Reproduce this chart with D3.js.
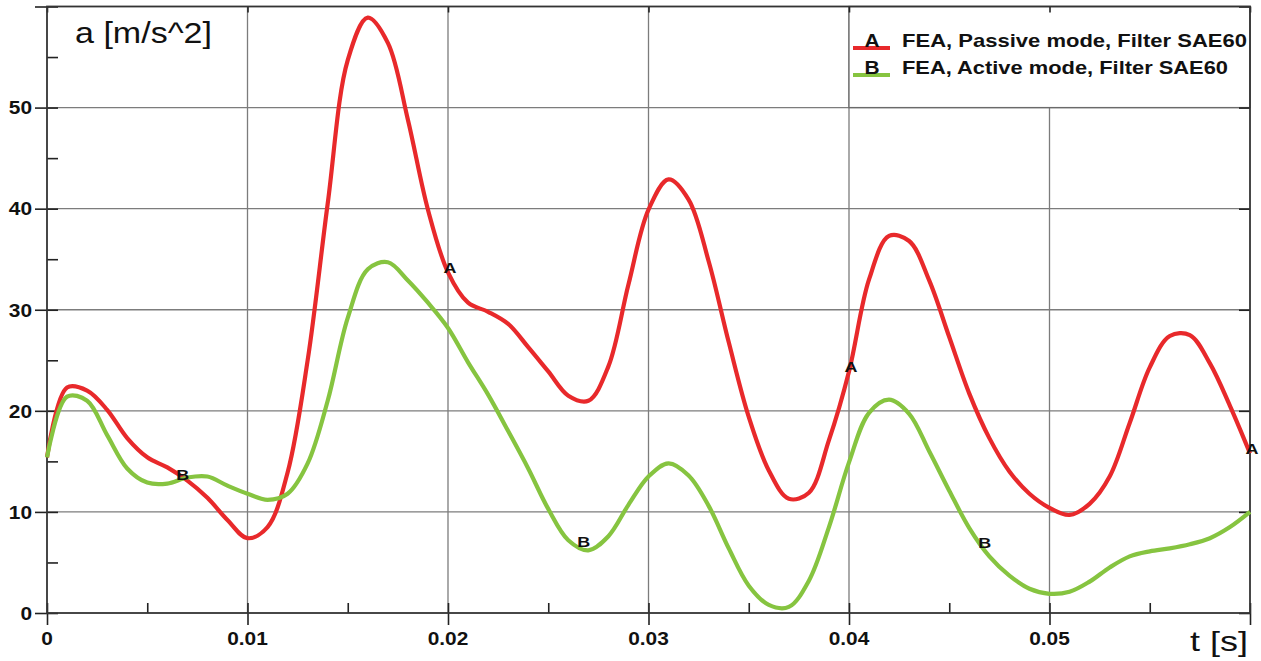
<!DOCTYPE html>
<html>
<head>
<meta charset="utf-8">
<script src="https://cdnjs.cloudflare.com/ajax/libs/d3/7.8.5/d3.min.js"></script>
<style>
  body { margin: 0; background: #fff; }
  svg { display: block; font-family: 'Liberation Sans', Arial, sans-serif; }
</style>
</head>
<body>
<script>

// Data (time in ms, acceleration in m/s^2)
var timeMs = [0,1,2,3,4,5,6,7,8,9,10,11,12,13,14,15,16,17,18,19,20,21,22,23,24,25,26,27,28,29,30,
  31,32,33,34,35,36,37,38,39,40,41,42,43,44,45,46,47,48,49,50,51,52,53,54,55,56,57,58,59,60];

var passive = [15.4,22.3,22.0,20.1,17.3,15.4,14.4,13.1,11.4,9.2,7.4,8.5,13.9,25.0,40.5,54.7,58.9,56.4,48.8,39.9,
  33.7,30.7,29.8,28.6,26.3,23.9,21.5,21.0,24.4,32.5,39.9,42.9,40.9,34.8,26.8,19.4,14.1,11.3,11.9,17.1,
  23.9,33.0,37.3,36.8,32.9,27.3,21.7,17.3,14.0,11.8,10.4,9.7,10.8,13.5,18.8,24.3,27.4,27.5,24.7,20.5,15.8];

var active = [15.4,21.4,21.0,17.6,14.3,12.9,12.8,13.4,13.5,12.6,11.8,11.2,11.8,14.8,21.0,29.2,34.0,34.7,32.9,30.7,
  28.2,24.8,21.6,18.0,14.3,10.3,7.2,6.2,7.6,10.7,13.5,14.8,13.6,10.6,6.4,2.7,0.8,0.6,3.2,8.5,
  14.9,19.8,21.1,19.7,16.0,12.1,8.4,5.6,3.7,2.4,1.9,2.1,3.1,4.5,5.6,6.1,6.4,6.8,7.4,8.5,10.0];

var seriesNames = ['FEA, Passive mode, Filter SAE60', 'FEA, Active mode, Filter SAE60'];
var seriesKeys = ['A', 'B'];
var seriesColors = ['#e8292b', '#86c440'];

var labelTimesA = [0.02, 0.04, 0.06];
var labelTimesB = [0.00667, 0.02667, 0.04667];

var xMajor = [0, 0.01, 0.02, 0.03, 0.04, 0.05, 0.06];
var xMinor = [0.005, 0.015, 0.025, 0.035, 0.045, 0.055];
var xLabels = [0, 0.01, 0.02, 0.03, 0.04, 0.05];
var yMajor = [0, 10, 20, 30, 40, 50, 60];
var yMinor = [5, 15, 25, 35, 45, 55];
var yLabels = [0, 10, 20, 30, 40, 50];

var time = timeMs.map(function(d){ return d / 1000; });
var series = [passive, active];

var W = 1261, H = 661;
var STRETCH = 1.16;   // the text in the picture is a bit wide

// Scales
var x = d3.scaleLinear().domain([0, 0.06]).range([47, 1250]);
var y = d3.scaleLinear().domain([0, 60]).range([613, 6.5]);

var svg = d3.select('body').append('svg').attr('width', W).attr('height', H);
svg.append('rect').attr('width', W).attr('height', H).attr('fill', '#fff');

// Grid
var grid = svg.append('g').attr('class', 'grid');
grid.selectAll('.vgrid').data(xMajor.slice(1, -1)).enter().append('line')
  .attr('x1', function(d){ return x(d); }).attr('x2', function(d){ return x(d); })
  .attr('y1', y(60)).attr('y2', y(0))
  .attr('stroke', '#7c7c7c').attr('stroke-width', 1.3);
grid.selectAll('.hgrid').data(yMajor.slice(1, -1)).enter().append('line')
  .attr('x1', x(0)).attr('x2', x(0.06))
  .attr('y1', function(d){ return y(d); }).attr('y2', function(d){ return y(d); })
  .attr('stroke', '#7c7c7c').attr('stroke-width', 1.3);

// Legend box covers the grid in the top right cell
svg.append('rect')
  .attr('x', x(0.04)).attr('y', y(60))
  .attr('width', x(0.06) - x(0.04)).attr('height', y(50) - y(60))
  .attr('fill', '#fff').attr('stroke', '#6a6a6a').attr('stroke-width', 1.3);

// Axes (ticks only, frame drawn as a rect)
function cleanAxis(g){
  g.select('.domain').remove();
  g.selectAll('.tick line').attr('stroke', '#222').attr('stroke-width', 1.6);
}

svg.append('g').attr('transform', 'translate(0,' + y(0) + ')')
  .call(d3.axisBottom(x).tickValues(xMajor).tickSize(12).tickFormat(''))
  .call(cleanAxis)
  .call(function(g){ g.selectAll('.tick line').attr('y1', -10); });
svg.append('g').attr('transform', 'translate(0,' + y(0) + ')')
  .call(d3.axisBottom(x).tickValues(xMinor).tickSize(-10).tickFormat(''))
  .call(cleanAxis);
svg.append('g').attr('transform', 'translate(0,' + y(60) + ')')
  .call(d3.axisTop(x).tickValues(xMajor).tickSize(-6).tickFormat(''))
  .call(cleanAxis);

svg.append('g').attr('transform', 'translate(' + x(0) + ',0)')
  .call(d3.axisLeft(y).tickValues(yMajor).tickSize(12).tickFormat(''))
  .call(cleanAxis)
  .call(function(g){ g.selectAll('.tick line').attr('x1', 11); });
svg.append('g').attr('transform', 'translate(' + x(0) + ',0)')
  .call(d3.axisLeft(y).tickValues(yMinor).tickSize(-11).tickFormat(''))
  .call(cleanAxis);
svg.append('g').attr('transform', 'translate(' + x(0.06) + ',0)')
  .call(d3.axisRight(y).tickValues(yMajor).tickSize(-11).tickFormat(''))
  .call(cleanAxis);

svg.append('rect')
  .attr('x', x(0)).attr('y', y(60))
  .attr('width', x(0.06) - x(0)).attr('height', y(0) - y(60))
  .attr('fill', 'none').attr('stroke', '#333').attr('stroke-width', 1.8);

// Tick labels
svg.selectAll('.xlab').data(xLabels).enter().append('text')
  .attr('class', 'xlab')
  .attr('transform', function(d){ return 'translate(' + x(d) + ',645) scale(' + STRETCH + ',1)'; })
  .attr('text-anchor', 'middle').attr('font-size', 18).attr('font-weight', 'bold').attr('fill', '#111')
  .text(function(d){ return d === 0 ? '0' : d.toFixed(2); });

svg.selectAll('.ylab').data(yLabels).enter().append('text')
  .attr('class', 'ylab')
  .attr('transform', function(d){ return 'translate(32,' + (y(d) + 6.8) + ') scale(' + STRETCH + ',1)'; })
  .attr('text-anchor', 'end').attr('font-size', 18).attr('font-weight', 'bold').attr('fill', '#111')
  .text(function(d){ return d; });

// Axis titles
svg.append('text').attr('x', 75).attr('y', 43)
  .attr('font-size', 29).attr('fill', '#111')
  .attr('textLength', 137).attr('lengthAdjust', 'spacingAndGlyphs')
  .text('a [m/s^2]');
svg.append('text').attr('x', 1190).attr('y', 651)
  .attr('font-size', 28).attr('fill', '#111')
  .attr('textLength', 58).attr('lengthAdjust', 'spacingAndGlyphs')
  .text('t [s]');

// Curves
var line = d3.line()
  .x(function(d, i){ return x(time[i]); })
  .y(function(d){ return y(d); })
  .curve(d3.curveCatmullRom.alpha(0.5));

svg.selectAll('.curve').data(series).enter().append('path')
  .attr('class', 'curve')
  .attr('d', line)
  .attr('fill', 'none')
  .attr('stroke', function(d, i){ return seriesColors[i]; })
  .attr('stroke-width', 4.2)
  .attr('stroke-linejoin', 'round');

// Curve markers A / B
function valueAt(values, t){
  var i = d3.bisectLeft(time, t);
  if (i <= 0) return values[0];
  if (i >= time.length) return values[values.length - 1];
  var k = (t - time[i - 1]) / (time[i] - time[i - 1]);
  return values[i - 1] + k * (values[i] - values[i - 1]);
}

var markers = [];
labelTimesA.forEach(function(t){ markers.push({ key: 'A', t: t, v: valueAt(passive, t) }); });
labelTimesB.forEach(function(t){ markers.push({ key: 'B', t: t, v: valueAt(active, t) }); });

svg.selectAll('.marker').data(markers).enter().append('text')
  .attr('class', 'marker')
  .attr('transform', function(d){ return 'translate(' + (x(d.t) + 2) + ',' + (y(d.v) + 0.5) + ') scale(' + STRETCH + ',1)'; })
  .attr('text-anchor', 'middle').attr('font-size', 15.5).attr('font-weight', 'bold').attr('fill', '#111')
  .text(function(d){ return d.key; });

// Legend
var legend = svg.selectAll('.legend').data(seriesNames).enter().append('g')
  .attr('class', 'legend')
  .attr('transform', function(d, i){ return 'translate(853,' + (48 + i * 27) + ')'; });

legend.append('line')
  .attr('x1', 0).attr('x2', 37).attr('y1', 0).attr('y2', 0)
  .attr('stroke', function(d, i){ return seriesColors[i]; })
  .attr('stroke-width', 4);

legend.append('text')
  .attr('transform', 'translate(19,-1) scale(' + STRETCH + ',1)')
  .attr('text-anchor', 'middle').attr('font-size', 18).attr('font-weight', 'bold').attr('fill', '#111')
  .text(function(d, i){ return seriesKeys[i]; });

legend.append('text')
  .attr('x', 49).attr('y', -1)
  .attr('font-size', 19).attr('font-weight', 'bold').attr('fill', '#111')
  .attr('textLength', function(d, i){ return i === 0 ? 345 : 326; })
  .attr('lengthAdjust', 'spacingAndGlyphs')
  .text(function(d){ return d; });

</script>
</body>
</html>
